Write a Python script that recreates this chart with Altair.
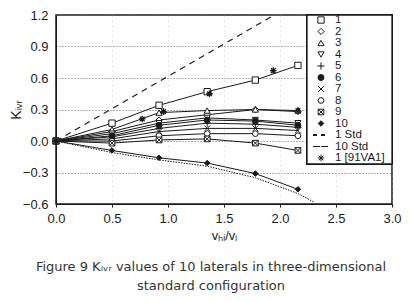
import altair as alt
import pandas as pd

# ---- data ----
x_vals = [0.0, 0.5, 0.92, 1.35, 1.78, 2.16]
series_names = ["1", "2", "3", "4", "5", "6", "7", "8", "9", "10"]
s1 = [0.0, 0.17, 0.34, 0.47, 0.58, 0.72]
s2 = [0.0, 0.09, 0.20, 0.25, 0.30, 0.28]
s3 = [0.0, 0.11, 0.27, 0.29, 0.30, 0.29]
s4 = [0.0, 0.07, 0.17, 0.22, 0.20, 0.17]
s5 = [0.0, 0.04, 0.12, 0.17, 0.16, 0.13]
s6 = [0.0, 0.05, 0.15, 0.20, 0.19, 0.15]
s7 = [0.0, 0.02, 0.09, 0.12, 0.12, 0.10]
s8 = [0.0, 0.00, 0.05, 0.07, 0.07, 0.05]
s9 = [0.0, -0.02, 0.01, 0.02, -0.02, -0.09]
s10 = [0.0, -0.09, -0.16, -0.21, -0.31, -0.46]
series_vals = [s1, s2, s3, s4, s5, s6, s7, s8, s9, s10]

std1_x = [0.0, 1.95]
std1_y = [0.0, 1.2]
std10_x = [0.0, 0.5, 0.92, 1.35, 1.78, 2.16, 2.30]
std10_y = [0.0, -0.11, -0.18, -0.24, -0.35, -0.50, -0.58]

va_x = [0.77, 0.96, 1.37, 1.94, 2.16]
va_y = [0.21, 0.28, 0.45, 0.67, 0.29]

legend_labels = ["1", "2", "3", "4", "5", "6", "7", "8", "9", "10",
                 "1 Std", "10 Std", "1 [91VA1]"]

x_ticks = [0.0, 0.5, 1.0, 1.5, 2.0, 2.5, 3.0]
y_ticks = [-0.6, -0.3, 0.0, 0.3, 0.6, 0.9, 1.2]

# ---- styling ----
W, H = 336, 189
FONT = "Liberation Sans"
CAP_FONT = "DejaVu Sans"
INK = "#1a1a1a"

X_PATH = "M-1,-1L1,1M-1,1L1,-1"
PLUS_PATH = "M-1.2,0H1.2M0,-1.2V1.2"
BOXX_PATH = "M-1,-1H1V1H-1ZM-1,-1L1,1M-1,1L1,-1"
STAR_PATH = "M0,-1.2V1.2M-1.2,0H1.2M-0.85,-0.85L0.85,0.85M-0.85,0.85L0.85,-0.85"

shape_domain = series_names + ["1 [91VA1]"]
shape_range = ["square", "diamond", "triangle-up", "triangle-down", PLUS_PATH,
               "circle", X_PATH, "circle", BOXX_PATH, "diamond", STAR_PATH]
fill_range = ["white", "white", "white", "white", "white",
              INK, "white", "white", "white", INK, "white"]
size_range = [40, 30, 36, 36, 34, 14, 26, 36, 40, 30, 55]

shape_scale = alt.Scale(domain=shape_domain, range=shape_range)
fill_scale = alt.Scale(domain=shape_domain, range=fill_range)
size_scale = alt.Scale(domain=shape_domain, range=size_range)

rows = []
for name, vals in zip(series_names, series_vals):
    for xv, yv in zip(x_vals, vals):
        rows.append({"series": name, "x": xv, "y": yv})
df = pd.DataFrame(rows)
df_std1 = pd.DataFrame({"x": std1_x, "y": std1_y})
df_std10 = pd.DataFrame({"x": std10_x, "y": std10_y})
df_va = pd.DataFrame({"x": va_x, "y": va_y, "series": ["1 [91VA1]"] * len(va_x)})

xs = alt.Scale(domain=[0, 3], nice=False, zero=False)
ys = alt.Scale(domain=[-0.6, 1.2], nice=False, zero=False)

x_axis = alt.Axis(values=x_ticks, tickCount=len(x_ticks), format=".1f", title="vₕᵢ/vₗ",
                  grid=True, gridColor="#aaaaaa", gridDash=[1, 4], gridOpacity=0.6,
                  tickSize=3, labelPadding=5, titlePadding=4, labelFlush=False,
                  labelFontSize=13, titleFontSize=13, labelOverlap=False)
y_axis = alt.Axis(values=y_ticks, tickCount=len(y_ticks), format=".1f", title="Kᵢᵥᵣ",
                  grid=True, gridColor="#666666", gridDash=[1, 2],
                  tickSize=0, labelPadding=8, titlePadding=-1, labelFlush=False,
                  labelFontSize=13, titleFontSize=14, labelOverlap=False)

base = alt.Chart(df).encode(
    x=alt.X("x:Q", scale=xs, axis=x_axis),
    y=alt.Y("y:Q", scale=ys, axis=y_axis),
)
lines = base.mark_line(color=INK, strokeWidth=1).encode(detail="series:N")
points = base.mark_point(filled=True, stroke=INK, strokeWidth=1, opacity=1).encode(
    shape=alt.Shape("series:N", scale=shape_scale, legend=None),
    fill=alt.Fill("series:N", scale=fill_scale, legend=None),
    size=alt.Size("series:N", scale=size_scale, legend=None),
)
std1 = alt.Chart(df_std1).mark_line(color=INK, strokeWidth=1.2, strokeDash=[6, 5]).encode(
    x=alt.X("x:Q", scale=xs), y=alt.Y("y:Q", scale=ys))
std10 = alt.Chart(df_std10).mark_line(color=INK, strokeWidth=1, strokeDash=[1.5, 1.2]).encode(
    x=alt.X("x:Q", scale=xs), y=alt.Y("y:Q", scale=ys))
stars = alt.Chart(df_va).mark_point(filled=True, stroke=INK, strokeWidth=1.3, opacity=1).encode(
    x=alt.X("x:Q", scale=xs), y=alt.Y("y:Q", scale=ys),
    shape=alt.Shape("series:N", scale=shape_scale, legend=None),
    fill=alt.Fill("series:N", scale=fill_scale, legend=None),
    size=alt.Size("series:N", scale=size_scale, legend=None),
)
plot = alt.layer(lines, std1, std10, points, stars)

# ---- legend box (pixel layout inside the plot) ----
LX0, LX1, LY0, LY1 = 251, 336, 0, 149
ROW0, ROWH = 5, 11.5
df_leg = pd.DataFrame({
    "label": legend_labels,
    "series": legend_labels,
    "row": list(range(len(legend_labels))),
})
df_leg["py"] = ROW0 + df_leg["row"] * ROWH
df_leg["sx"] = 265
df_leg["tx"] = 279
df_leg_sym = df_leg[~df_leg["label"].isin(["1 Std", "10 Std"])]

lxs = alt.Scale(domain=[0, W], nice=False, zero=False)
lys = alt.Scale(domain=[0, H], nice=False, zero=False, reverse=True)

box = alt.Chart(df_leg).mark_rect(fill="white", stroke=INK, strokeWidth=1.3).encode(
    x=alt.value(LX0), x2=alt.value(LX1), y=alt.value(LY0), y2=alt.value(LY1))
leg_sym = alt.Chart(df_leg_sym).mark_point(filled=True, stroke=INK, strokeWidth=1, opacity=1).encode(
    x=alt.X("sx:Q", scale=lxs, axis=None),
    y=alt.Y("py:Q", scale=lys, axis=None),
    shape=alt.Shape("series:N", scale=shape_scale, legend=None),
    fill=alt.Fill("series:N", scale=fill_scale, legend=None),
    size=alt.Size("series:N", scale=size_scale, legend=None),
)
leg_text = alt.Chart(df_leg).mark_text(align="left", baseline="middle", font=FONT,
                                       fontSize=11.5, color=INK).encode(
    x=alt.X("tx:Q", scale=lxs, axis=None),
    y=alt.Y("py:Q", scale=lys, axis=None),
    text="label:N",
)
ry1 = ROW0 + 10 * ROWH
ry2 = ROW0 + 11 * ROWH
leg_dash = alt.Chart(df_leg).mark_rule(color=INK, strokeWidth=1.2, strokeDash=[4, 4]).encode(
    x=alt.value(257), x2=alt.value(273), y=alt.value(ry1))
leg_dot = alt.Chart(df_leg).mark_rule(color=INK, strokeWidth=1, strokeDash=[1.5, 1.2]).encode(
    x=alt.value(257), x2=alt.value(273), y=alt.value(ry2))
legend = alt.layer(box, leg_dash, leg_dot, leg_sym, leg_text)

chart = alt.layer(plot, legend).resolve_scale(x="independent", y="independent").properties(
    width=W, height=H,
    autosize=alt.AutoSizeParams(type="none"),
    padding={"left": 48, "top": 7, "right": 11, "bottom": 90},
    title=alt.TitleParams(
        text=["Figure 9 Kᵢᵥᵣ values of 10 laterals in three-dimensional",
              "standard configuration"],
        orient="bottom", anchor="middle", font=CAP_FONT, fontSize=13,
        fontWeight="normal", color="#333333", offset=19, lineHeight=19, dx=-13,
    ),
).configure_view(stroke=INK, strokeWidth=1.5).configure_axis(
    labelFont=FONT, titleFont=FONT, labelColor=INK, titleColor=INK,
    domainColor=INK, tickColor=INK, titleFontWeight="normal",
)

chart.save("out.html", embed_options={"renderer": "svg", "actions": False})
